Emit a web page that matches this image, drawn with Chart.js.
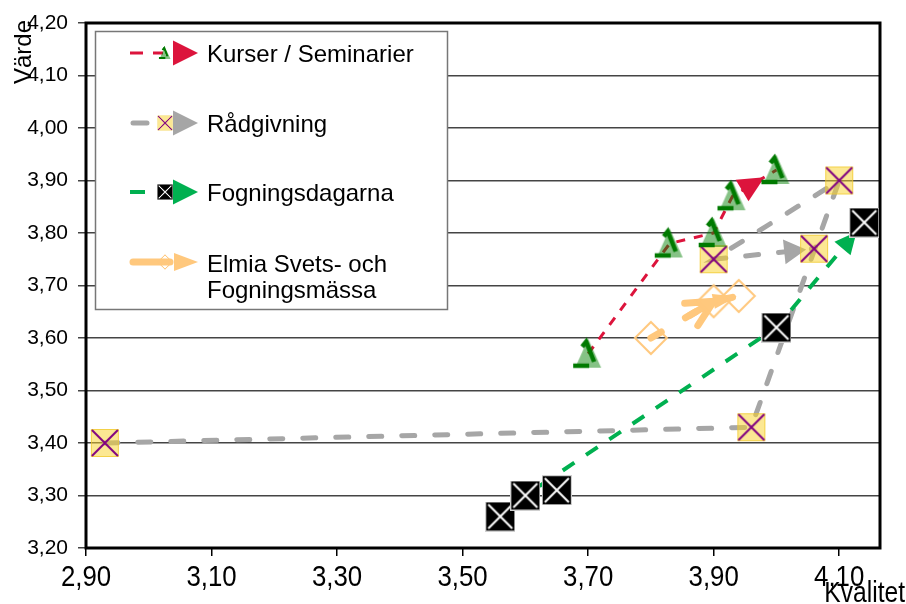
<!DOCTYPE html>
<html>
<head>
<meta charset="utf-8">
<script src="https://cdn.jsdelivr.net/npm/chart.js@4.4.0/dist/chart.umd.min.js"></script>
<style>
html, body { margin: 0; padding: 0; background: #fff; }
#wrap { width: 906px; height: 604px; }
</style>
</head>
<body>
<div id="wrap"><canvas id="c" width="906" height="604"></canvas></div>
<script>
// värden
const xTicks = [2.90, 3.10, 3.30, 3.50, 3.70, 3.90, 4.10];
const yTicks = [3.20, 3.30, 3.40, 3.50, 3.60, 3.70, 3.80, 3.90, 4.00, 4.10, 4.20];

const kurserX = [3.70, 3.83, 3.90, 3.93, 4.00];
const kurserY = [3.57, 3.78, 3.80, 3.87, 3.92];

const radX = [2.93, 3.96, 4.10, 3.90, 4.06];
const radY = [3.40, 3.43, 3.90, 3.75, 3.77];

const fogX = [3.65, 3.56, 3.60, 4.00, 4.14];
const fogY = [3.31, 3.26, 3.30, 3.62, 3.82];

const elmiaX = [3.80, 3.90, 3.94];
const elmiaY = [3.60, 3.67, 3.68];

const names = ['Kurser / Seminarier', 'Rådgivning', 'Fogningsdagarna', ['Elmia Svets- och', 'Fogningsmässa']];

const RED = '#DC143C';
const GREY = '#A6A6A6';
const GREEN = '#00B050';
const PEACH = '#FFC87D';

const SANS = "'Liberation Sans', Arial, sans-serif";

function pts(xs, ys) {
    return xs.map((x, i) => ({ x: x, y: ys[i] }));
}

function makeMarker(size, draw) {
    const cv = document.createElement('canvas');
    cv.width = size;
    cv.height = size;
    draw(cv.getContext('2d'), size / 2);
    return cv;
}

// grön triangel med mörkgröna streck
const triMarker = makeMarker(38, (g, c) => {
    g.fillStyle = 'rgba(0,128,0,0.48)';
    g.beginPath();
    g.moveTo(c, c - 15);
    g.lineTo(c + 13, c + 14);
    g.lineTo(c - 13, c + 14);
    g.closePath();
    g.fill();
    g.strokeStyle = '#007a00';
    g.lineWidth = 4.5;
    g.beginPath();
    g.moveTo(c - 6, c - 7);
    g.lineTo(c - 2, c - 12);
    g.lineTo(c + 6, c + 8);
    g.stroke();
    g.beginPath();
    g.moveTo(c - 15, c + 12);
    g.lineTo(c + 1, c + 12);
    g.stroke();
});

// gul ruta med lila kryss
const sqMarker = makeMarker(30, (g, c) => {
    g.fillStyle = 'rgba(250,210,40,0.5)';
    g.fillRect(c - 14, c - 14, 28, 28);
    g.strokeStyle = 'rgba(240,200,40,0.7)';
    g.lineWidth = 1;
    g.strokeRect(c - 13.5, c - 13.5, 27, 27);
    g.strokeStyle = '#800080';
    g.lineWidth = 2;
    g.beginPath();
    g.moveTo(c - 13, c - 13);
    g.lineTo(c + 13, c + 13);
    g.moveTo(c + 13, c - 13);
    g.lineTo(c - 13, c + 13);
    g.stroke();
});

// svart ruta med vitt kryss
const blackMarker = makeMarker(30, (g, c) => {
    g.fillStyle = '#000';
    g.fillRect(c - 14, c - 14, 28, 28);
    g.strokeStyle = '#cfcfcf';
    g.lineWidth = 1;
    g.strokeRect(c - 14.5, c - 14.5, 29, 29);
    g.strokeStyle = '#fff';
    g.lineWidth = 2;
    g.beginPath();
    g.moveTo(c - 12, c - 12);
    g.lineTo(c + 12, c + 12);
    g.moveTo(c + 12, c - 12);
    g.lineTo(c - 12, c + 12);
    g.stroke();
});

// ihålig romb
const diaMarker = makeMarker(36, (g, c) => {
    g.strokeStyle = PEACH;
    g.lineWidth = 2;
    g.beginPath();
    g.moveTo(c, c - 16);
    g.lineTo(c + 16, c);
    g.lineTo(c, c + 16);
    g.lineTo(c - 16, c);
    g.closePath();
    g.stroke();
});

function arrowHead(ctx, tx, ty, ang, len, wid, color) {
    ctx.save();
    ctx.translate(tx, ty);
    ctx.rotate(ang);
    ctx.fillStyle = color;
    ctx.beginPath();
    ctx.moveTo(0, 0);
    ctx.lineTo(-len, -wid / 2);
    ctx.lineTo(-len, wid / 2);
    ctx.closePath();
    ctx.fill();
    ctx.restore();
}

// smal text (tickar på x-axeln och axeltitel)
function narrowText(ctx, txt, x, y, align, size, squeeze) {
    ctx.save();
    ctx.font = size + 'px ' + SANS;
    ctx.textAlign = align;
    ctx.textBaseline = 'alphabetic';
    ctx.fillStyle = '#000';
    ctx.translate(x, y);
    ctx.scale(squeeze, 1);
    ctx.fillText(txt, 0, 0);
    ctx.restore();
}

const arrows = [
    { color: RED, len: 26, wid: 25, back: 14 },
    { color: GREY, len: 22, wid: 25, back: 8 },
    { color: GREEN, len: 22, wid: 21, back: 12 },
    { color: PEACH, len: 24, wid: 15, back: 2 }
];

const extras = {
    id: 'extras',
    beforeDatasetsDraw(chart) {
        const a = chart.chartArea;
        const ctx = chart.ctx;
        ctx.save();
        ctx.strokeStyle = '#000';
        ctx.lineWidth = 3;
        ctx.strokeRect(a.left, a.top, a.right - a.left, a.bottom - a.top);
        ctx.restore();
    },
    beforeDatasetDraw(chart, args) {
        const arr = arrows[args.index];
        const d = args.meta.data;
        if (!arr || d.length < 2) return;
        const p1 = d[d.length - 2], p2 = d[d.length - 1];
        const ang = Math.atan2(p2.y - p1.y, p2.x - p1.x);
        const tx = p2.x - Math.cos(ang) * arr.back;
        const ty = p2.y - Math.sin(ang) * arr.back;
        const ctx = chart.ctx;
        arrowHead(ctx, tx, ty, ang, arr.len, arr.wid, arr.color);
        // öppen pil vid mittpunkten för Elmia
        if (args.index === 3) {
            const q0 = d[0], q1 = d[1];
            const a2 = Math.atan2(q1.y - q0.y, q1.x - q0.x);
            ctx.save();
            ctx.translate(q1.x, q1.y);
            ctx.rotate(a2);
            ctx.strokeStyle = PEACH;
            ctx.lineWidth = 7;
            ctx.lineCap = 'round';
            ctx.beginPath();
            ctx.moveTo(-26, -13);
            ctx.lineTo(0, 0);
            ctx.lineTo(-26, 13);
            ctx.moveTo(-28, 0);
            ctx.lineTo(0, 0);
            ctx.stroke();
            ctx.restore();
        }
    },
    afterDraw(chart) {
        const ctx = chart.ctx;
        const xs = chart.scales.x;

        // x-etiketter
        xTicks.forEach(v => {
            narrowText(ctx, komma(v), xs.getPixelForValue(v), 586, 'center', 30, 0.86);
        });
        narrowText(ctx, 'Kvalitet', 905, 602, 'right', 30, 0.82);

        // axeltitel y
        ctx.save();
        ctx.fillStyle = '#000';
        ctx.font = '24px ' + SANS;
        ctx.textAlign = 'center';
        ctx.textBaseline = 'alphabetic';
        ctx.translate(31, 52);
        ctx.rotate(-Math.PI / 2);
        ctx.fillText('Värde', 0, 0);
        ctx.restore();

        // teckenförklaring
        ctx.save();
        ctx.fillStyle = '#fff';
        ctx.fillRect(95, 31, 352, 278);
        ctx.strokeStyle = '#777';
        ctx.lineWidth = 1.5;
        ctx.strokeRect(95.5, 31.5, 352, 278);

        const rows = [53, 123, 192, 262];
        const lineStyles = [
            { color: RED, w: 3, dash: [13, 10], end: 163, cap: 'butt' },
            { color: GREY, w: 5, dash: [], end: 147, cap: 'round' },
            { color: GREEN, w: 4, dash: [], end: 145, cap: 'butt' },
            { color: PEACH, w: 7, dash: [], end: 170, cap: 'round' }
        ];
        const icons = [triMarker, sqMarker, blackMarker, diaMarker];
        rows.forEach((y, i) => {
            const ls = lineStyles[i];
            ctx.strokeStyle = ls.color;
            ctx.lineWidth = ls.w;
            ctx.lineCap = ls.cap;
            ctx.setLineDash(ls.dash);
            ctx.beginPath();
            ctx.moveTo(i === 1 || i === 3 ? 133 : 130, y);
            ctx.lineTo(ls.end, y);
            ctx.stroke();
            ctx.setLineDash([]);
            const s = 16;
            ctx.drawImage(icons[i], 165 - s / 2, y - s / 2, s, s);
            arrowHead(ctx, 198, y, 0, i === 3 ? 24 : 25, i === 3 ? 18 : 25, arrows[i].color);
        });

        ctx.fillStyle = '#000';
        ctx.font = '24px ' + SANS;
        ctx.textAlign = 'left';
        ctx.textBaseline = 'alphabetic';
        const base = 8.5;
        ctx.fillText(names[0], 207, rows[0] + base);
        ctx.fillText(names[1], 207, rows[1] + base);
        ctx.fillText(names[2], 207, rows[2] + base);
        ctx.fillText(names[3][0], 207, 263 + base);
        ctx.fillText(names[3][1], 207, 289 + base);
        ctx.restore();
    }
};

function komma(v) {
    return Number(v).toFixed(2).replace('.', ',');
}

new Chart(document.getElementById('c'), {
    type: 'scatter',
    data: {
        datasets: [
            {
                label: names[0],
                data: pts(kurserX, kurserY),
                showLine: true,
                borderColor: RED,
                borderWidth: 3,
                borderDash: [9, 9],
                pointStyle: triMarker,
                pointRadius: 14,
                order: 1
            },
            {
                label: names[1],
                data: pts(radX, radY),
                showLine: true,
                borderColor: GREY,
                borderWidth: 5,
                borderDash: [13, 20],
                borderCapStyle: 'round',
                pointStyle: sqMarker,
                pointRadius: 14,
                order: 3
            },
            {
                label: names[2],
                data: pts(fogX, fogY),
                showLine: true,
                borderColor: GREEN,
                borderWidth: 4,
                borderDash: [14, 14],
                pointStyle: blackMarker,
                pointRadius: 14,
                order: 2
            },
            {
                label: names[3].join(' '),
                data: pts(elmiaX, elmiaY),
                showLine: true,
                borderColor: PEACH,
                borderWidth: 7,
                borderDash: [12, 28],
                borderCapStyle: 'round',
                pointStyle: diaMarker,
                pointRadius: 16,
                order: 4
            }
        ]
    },
    options: {
        responsive: false,
        animation: false,
        layout: { padding: { left: 0, top: 19, right: 26, bottom: 0 } },
        plugins: {
            legend: { display: false },
            tooltip: { enabled: false }
        },
        scales: {
            x: {
                type: 'linear',
                min: 2.9,
                max: 4.165,
                afterBuildTicks: s => { s.ticks = xTicks.map(v => ({ value: v })); },
                afterFit: s => { s.height = 56; },
                border: { display: false },
                grid: { drawOnChartArea: false, drawTicks: true, tickLength: 8, color: '#000', lineWidth: 1.5 },
                ticks: { display: false }
            },
            y: {
                type: 'linear',
                min: 3.2,
                max: 4.2,
                afterBuildTicks: s => { s.ticks = yTicks.map(v => ({ value: v })); },
                afterFit: s => { s.width = 86; },
                border: { display: false },
                grid: { color: '#444', lineWidth: 1.5, tickLength: 8 },
                ticks: {
                    color: '#000',
                    padding: 10,
                    font: { family: SANS, size: 21 },
                    callback: v => komma(v)
                }
            }
        }
    },
    plugins: [extras]
});
</script>
</body>
</html>
